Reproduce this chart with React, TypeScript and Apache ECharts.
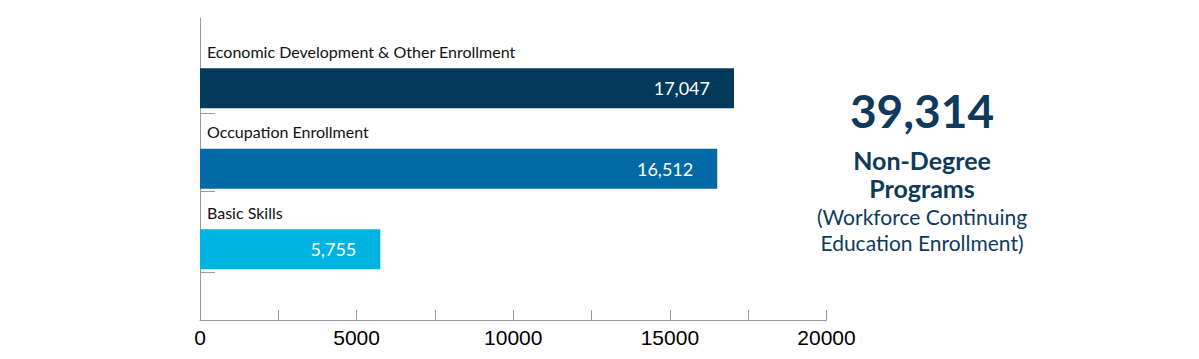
import React, { useEffect, useRef } from "react";
import * as echarts from "echarts";

const categories = [
  "Economic Development & Other Enrollment",
  "Occupation Enrollment",
  "Basic Skills",
];
const values = [17047, 16512, 5755];
const barColors = ["#03395b", "#0069a6", "#00b4e1"];
const xTickLabels = [0, 5000, 10000, 15000, 20000];
const headline = ["Non-Degree", "Programs"];
const subline = ["(Workforce Continuing", "Education Enrollment)"];

const fmt = (n: number) => n.toLocaleString("en-US");

export default function App() {
  const ref = useRef<HTMLDivElement>(null);
  useEffect(() => {
    document.body.style.margin = "0";
    if (!ref.current) return;
    const chart = echarts.init(ref.current, null, { renderer: "svg" });
    const total = values.reduce((a, b) => a + b, 0);
    const textColor = "#0f3a5c";
    const axisColor = "#9a9a9a";
    const font = "Lato";
    chart.setOption({
      animation: false,
      backgroundColor: "#ffffff",
      grid: [
        { left: 200, width: 626.5, top: 48, height: 241.5 },
        { left: 200, width: 626.5, top: 18, height: 302 },
      ],
      xAxis: [
        { type: "value", gridIndex: 0, min: 0, max: 20000, show: false },
        {
          type: "value",
          gridIndex: 1,
          position: "bottom",
          min: 0,
          max: 20000,
          interval: 2500,
          axisLine: { show: true, onZero: false, lineStyle: { color: axisColor, width: 1 } },
          axisTick: { show: true, inside: true, length: 10, lineStyle: { color: axisColor } },
          splitLine: { show: false },
          axisLabel: {
            margin: 7,
            color: "#000",
            fontSize: 21,
            fontFamily: "Liberation Sans",
            formatter: (v: number) => (xTickLabels.includes(v) ? String(v) : ""),
          },
        },
      ],
      yAxis: [
        {
          type: "category",
          gridIndex: 0,
          inverse: true,
          data: categories,
          axisLine: { show: false },
          axisTick: { show: false },
          axisLabel: {
            inside: true,
            margin: 7,
            color: "#111",
            fontSize: 16,
            fontFamily: font,
            verticalAlign: "bottom",
            lineHeight: 18,
            padding: [0, 0, 28, 0],
          },
        },
        {
          type: "value",
          gridIndex: 1,
          min: 0,
          max: 302,
          inverse: true,
          axisLine: { show: true, onZero: false, lineStyle: { color: axisColor, width: 1 } },
          axisTick: {
            show: true,
            inside: true,
            length: 15,
            customValues: [95, 173, 254],
            lineStyle: { color: axisColor },
          },
          axisLabel: { show: false },
          splitLine: { show: false },
        },
      ],
      series: [
        {
          type: "bar",
          xAxisIndex: 0,
          yAxisIndex: 0,
          barWidth: 40,
          data: values.map((v, i) => ({ value: v, itemStyle: { color: barColors[i] } })),
          label: {
            show: true,
            position: "insideRight",
            distance: 24,
            color: "#fff",
            fontSize: 18,
            fontFamily: font,
            formatter: (p: any) => fmt(p.value),
          },
        },
      ],
      graphic: [
        {
          type: "text",
          x: 922,
          y: 110,
          style: {
            text: fmt(total),
            textAlign: "center",
            textVerticalAlign: "middle",
            fill: textColor,
            font: `bold 46px ${font}`,
          },
        },
        {
          type: "text",
          x: 922,
          y: 174,
          style: {
            text: headline.join("\n"),
            textAlign: "center",
            textVerticalAlign: "middle",
            lineHeight: 28,
            fill: textColor,
            font: `bold 25px ${font}`,
          },
        },
        {
          type: "text",
          x: 922,
          y: 229,
          style: {
            text: subline.join("\n"),
            textAlign: "center",
            textVerticalAlign: "middle",
            lineHeight: 26,
            fill: textColor,
            font: `21px ${font}`,
          },
        },
      ],
    });
    return () => chart.dispose();
  }, []);
  return <div ref={ref} style={{ width: 1199, height: 359 }} />;
}
